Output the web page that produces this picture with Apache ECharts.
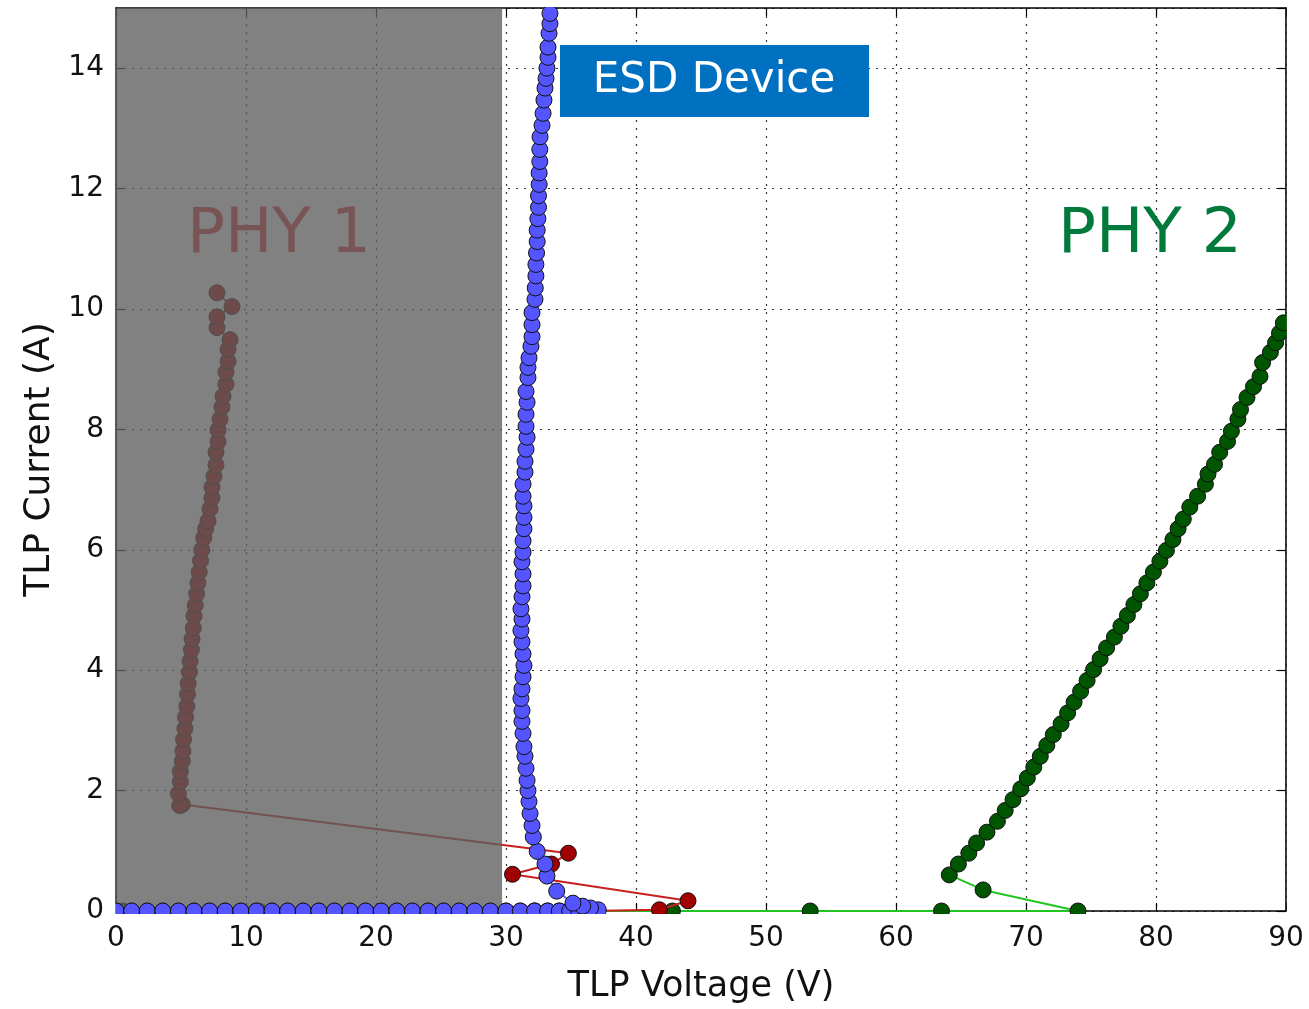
<!DOCTYPE html>
<html>
<head>
<meta charset="utf-8">
<script src="https://cdn.jsdelivr.net/npm/echarts@6/dist/echarts.min.js"></script>
<style>
html,body{margin:0;padding:0;background:#fff;}
#chart{width:1309px;height:1009px;}
</style>
</head>
<body>
<div id="chart"></div>
<script>
// ---------- data (TLP Voltage V, TLP Current A) ----------
const xTicks = [0, 10, 20, 30, 40, 50, 60, 70, 80, 90];
const yTicks = [0, 2, 4, 6, 8, 10, 12, 14];
const shadedRange = [0, 29.7]; // PHY 1 shaded voltage window

const esdV = [0,1.2,2.4,3.6,4.8,6.0,7.2,8.4,9.6,10.8,12.0,13.2,14.4,15.6,16.8,18.0,19.2,20.4,21.6,22.8,24.0,25.2,26.4,27.6,28.8,30.0,31.1,32.2,33.2,34.1,34.9,35.6,36.2,36.7,37.1,
  36.5,35.9,35.15,33.9,33.15,33.0,32.4,32.1,32.0,31.85,31.77,31.69,31.62,31.54,31.46,31.38,31.31,31.23,31.23,31.15,31.23,31.31,31.38,31.31,31.23,31.15,31.23,31.15,31.23,31.31,31.31,31.23,31.31,31.31,31.38,31.38,31.38,31.31,31.31,31.46,31.46,31.54,31.62,31.54,31.54,31.62,31.54,31.69,31.69,31.77,31.92,32.0,32.0,32.0,32.23,
  32.25,32.3,32.3,32.35,32.4,32.4,32.45,32.5,32.5,32.55,32.55,32.6,32.6,32.62,32.77,32.85,32.92,33.0,33.08,33.15,33.23,33.23,33.31,33.38,33.38,33.45];
const esdI = [0,0,0,0,0,0,0,0,0,0,0,0,0,0,0,0,0,0,0,0,0,0,0,0,0,0,0,0,0,0,0,0,0,0.01,0.02,
  0.05,0.08,0.13,0.33,0.58,0.78,0.99,1.23,1.42,1.62,1.82,2.0,2.17,2.37,2.57,2.73,2.95,3.15,3.33,3.53,3.69,3.89,4.08,4.27,4.47,4.66,4.85,5.02,5.22,5.4,5.6,5.8,5.96,6.15,6.35,6.54,6.73,6.89,7.09,7.29,7.47,7.67,7.87,8.05,8.25,8.45,8.63,8.86,9.03,9.19,9.38,9.54,9.74,9.94,10.16,
  10.35,10.55,10.74,10.93,11.12,11.31,11.5,11.69,11.88,12.07,12.26,12.45,12.65,12.86,13.05,13.25,13.47,13.67,13.83,14.0,14.18,14.35,14.58,14.74,14.91,15.1];

const phy1V = [0,1.2,2.4,3.6,4.8,6.0,7.2,8.4,9.6,10.8,12.0,13.2,14.4,15.6,16.8,18.0,19.2,20.4,21.6,22.8,24.0,25.2,26.4,27.6,28.8,30.0,31.1,32.2,33.2,34.1,34.9,35.6,36.2,
  41.8,44.0,30.5,33.5,34.8,5.1,4.9,4.8,4.95,4.95,5.1,5.15,5.2,5.3,5.35,5.45,5.5,5.55,5.65,5.7,5.8,5.85,5.95,6.0,6.1,6.2,6.3,6.4,6.5,6.6,6.75,6.9,
  7.08,7.23,7.38,7.38,7.54,7.69,7.69,7.85,7.85,8.0,8.15,8.23,8.46,8.46,8.62,8.62,8.77,7.77,7.77,8.92,7.77];
const phy1I = [0,0,0,0,0,0,0,0,0,0,0,0,0,0,0,0,0,0,0,0,0,0,0,0,0,0,0,0,0,0,0,0,0,
  0.02,0.17,0.61,0.78,0.96,1.77,1.75,1.95,2.15,2.32,2.49,2.66,2.85,3.03,3.22,3.4,3.6,3.78,3.97,4.15,4.34,4.52,4.7,4.9,5.08,5.27,5.45,5.63,5.82,6.0,6.2,6.35,
  6.48,6.68,6.86,7.04,7.22,7.41,7.62,7.8,7.99,8.17,8.37,8.55,8.75,8.95,9.13,9.33,9.49,9.69,9.87,10.04,10.27];

const phy2V = [0.5,11.0,21.6,32.2,42.8,53.4,63.5,74.0,66.7,64.1,64.8,65.6,66.2,67.0,67.8,68.4,69.0,69.6,70.1,70.6,71.1,71.6,72.1,72.7,73.2,73.7,74.2,74.7,75.2,
  75.7,76.2,76.8,77.3,77.8,78.3,78.8,79.3,79.8,80.3,80.8,81.3,81.7,82.1,82.6,83.2,83.8,84.0,84.5,84.9,85.5,85.8,86.3,86.5,87.0,87.5,88.0,88.2,88.8,89.2,89.5,89.8,90.2];
const phy2I = [0,0,0,0,0,0,0,0,0.35,0.6,0.78,0.96,1.13,1.31,1.49,1.67,1.85,2.03,2.21,2.39,2.57,2.75,2.93,3.11,3.29,3.47,3.65,3.83,4.01,
  4.19,4.37,4.55,4.73,4.91,5.09,5.27,5.45,5.63,5.81,5.99,6.17,6.35,6.51,6.71,6.89,7.09,7.26,7.42,7.62,7.8,7.97,8.17,8.33,8.53,8.71,8.88,9.11,9.28,9.44,9.6,9.77,9.95];

const pairs = (xs, ys) => xs.map((x, i) => [x, ys[i]]);

const W = 1309, H = 1009;
const FONT = '"DejaVu Sans", Verdana, sans-serif';
const GRID = {left: 116, right: 23, top: 8, bottom: 96};
const chart = echarts.init(document.getElementById('chart'), null, {renderer: 'canvas'});

const frameLine = {show: true, onZero: false, lineStyle: {color: '#000', width: 1.6}};
const tickIn = {show: true, inside: true, length: 8, lineStyle: {color: '#000', width: 1.2}};
const dotted = {show: true, lineStyle: {color: '#333', width: 1.2, type: [2, 6]}};

function markerSeries(name, data, fill, line, z) {
  return {
    name, type: 'line', data, z,
    symbol: 'circle', symbolSize: 16, showAllSymbol: true, clip: true,
    itemStyle: {color: fill, borderColor: '#111', borderWidth: 1},
    lineStyle: {color: line, width: 2},
    emphasis: {disabled: true},
    animation: false
  };
}

// white strips just outside the plot frame so markers are clipped at the frame
const gx0 = GRID.left, gx1 = W - GRID.right, gy0 = GRID.top, gy1 = H - GRID.bottom;
const maskStyle = {fill: '#fff'};
const masks = [
  {type: 'rect', z: 90, silent: true, shape: {x: gx0 - 14, y: gy1 + 0.9, width: gx1 - gx0 + 28, height: 10}, style: maskStyle},
  {type: 'rect', z: 90, silent: true, shape: {x: gx0 - 12, y: 0, width: 11.2, height: gy1 + 11}, style: maskStyle},
  {type: 'rect', z: 90, silent: true, shape: {x: gx0 - 14, y: 0, width: gx1 - gx0 + 28, height: gy0 - 0.9}, style: maskStyle},
  {type: 'rect', z: 90, silent: true, shape: {x: gx1 + 0.9, y: 0, width: 14, height: gy1 + 11}, style: maskStyle}
];

chart.setOption({
  animation: false,
  backgroundColor: '#fff',
  grid: Object.assign({containLabel: false}, GRID),
  xAxis: [
    {type: 'value', min: xTicks[0], max: xTicks[xTicks.length - 1], interval: 10, position: 'bottom',
     axisLine: frameLine, axisTick: tickIn,
     axisLabel: {fontSize: 28, color: '#111', fontFamily: FONT, margin: 14},
     splitLine: dotted,
     name: 'TLP Voltage (V)', nameLocation: 'middle', nameGap: 58,
     nameTextStyle: {fontSize: 35, color: '#111', fontFamily: FONT}},
    {type: 'value', min: xTicks[0], max: xTicks[xTicks.length - 1], interval: 10, position: 'top',
     axisLine: frameLine, axisTick: tickIn, axisLabel: {show: false}, splitLine: {show: false}}
  ],
  yAxis: [
    {type: 'value', min: yTicks[0], max: 15, interval: 2, position: 'left',
     axisLine: frameLine, axisTick: tickIn,
     axisLabel: {fontSize: 28, color: '#111', fontFamily: FONT, margin: 12, showMaxLabel: false},
     splitLine: dotted,
     name: 'TLP Current (A)', nameLocation: 'middle', nameGap: 58,
     nameTextStyle: {fontSize: 36, color: '#111', fontFamily: FONT}},
    {type: 'value', min: yTicks[0], max: 15, interval: 2, position: 'right',
     axisLine: frameLine, axisTick: tickIn, axisLabel: {show: false}, splitLine: {show: false}}
  ],
  series: [
    markerSeries('PHY 2', pairs(phy2V, phy2I), '#005500', '#22c422', 2),
    markerSeries('PHY 1', pairs(phy1V, phy1I), '#a00000', '#c82020', 3),
    {
      name: 'shade', type: 'scatter', data: [], z: 4, silent: true,
      markArea: {silent: true, z: 4, itemStyle: {color: 'rgba(95,95,95,0.79)'},
        data: [[{xAxis: shadedRange[0]}, {xAxis: shadedRange[1]}]]}
    },
    markerSeries('ESD Device', pairs(esdV, esdI), '#5555ff', '#6a6aff', 5)
  ],
  graphic: masks.concat([
    {type: 'text', z: 100, left: 187, top: 204,
     style: {text: 'PHY 1', fill: 'rgb(121,84,84)', font: '63px ' + FONT}},
    {type: 'text', z: 100, left: 1058, top: 204,
     style: {text: 'PHY 2', fill: '#007a3a', font: '63px ' + FONT}},
    {type: 'rect', z: 100, shape: {x: 560, y: 45, width: 309, height: 72},
     style: {fill: '#0070c0'}},
    {type: 'text', z: 101, x: 714, y: 81,
     style: {text: 'ESD Device', fill: '#fff', font: '42px ' + FONT, align: 'center', verticalAlign: 'middle'}}
  ])
});
</script>
</body>
</html>
